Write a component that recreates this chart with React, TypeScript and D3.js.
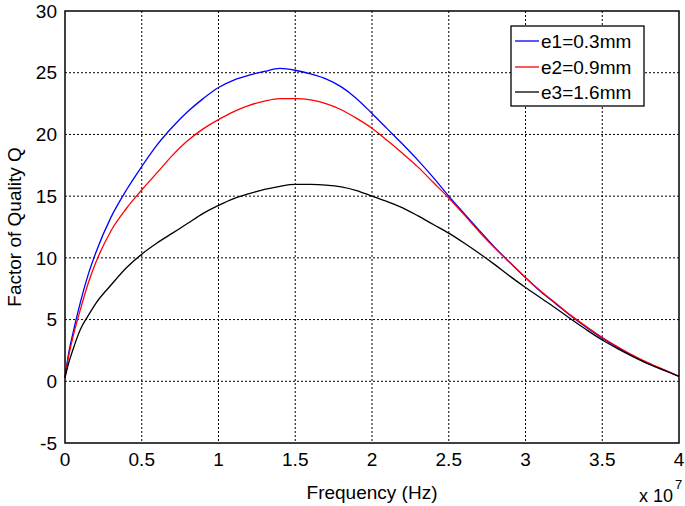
import React from "react";
import * as d3 from "d3";

const freq = [0, 0.02, 0.05, 0.1, 0.15, 0.2, 0.3, 0.4, 0.5, 0.6, 0.7, 0.8, 0.9, 1.0, 1.1, 1.2, 1.3, 1.4, 1.5, 1.6, 1.7, 1.8, 1.9, 2.0, 2.1, 2.2, 2.3, 2.4, 2.5, 2.6, 2.7, 2.8, 2.9, 3.0, 3.1, 3.2, 3.3, 3.4, 3.5, 3.6, 3.7, 3.8, 3.9, 4.0];
const e1 = [0.3, 2.0, 3.8, 6.4, 8.6, 10.4, 13.3, 15.5, 17.4, 19.15, 20.6, 21.85, 22.9, 23.8, 24.4, 24.8, 25.1, 25.35, 25.2, 24.9, 24.5, 23.85, 22.9, 21.7, 20.45, 19.2, 17.9, 16.5, 15.0, 13.6, 12.2, 10.85, 9.6, 8.4, 7.25, 6.25, 5.25, 4.35, 3.5, 2.75, 2.05, 1.45, 0.92, 0.4];
const e2 = [0.3, 1.8, 3.5, 5.8, 7.9, 9.6, 12.2, 14.0, 15.5, 16.9, 18.3, 19.5, 20.45, 21.2, 21.85, 22.35, 22.7, 22.9, 22.9, 22.8, 22.5, 22.0, 21.3, 20.5, 19.5, 18.45, 17.35, 16.1, 14.85, 13.5, 12.1, 10.8, 9.6, 8.4, 7.3, 6.3, 5.3, 4.4, 3.55, 2.8, 2.1, 1.5, 0.95, 0.4];
const e3 = [0.3, 1.3, 2.5, 4.2, 5.3, 6.3, 7.8, 9.2, 10.3, 11.2, 12.0, 12.8, 13.6, 14.25, 14.8, 15.2, 15.55, 15.8, 15.95, 15.95, 15.9, 15.75, 15.45, 15.0, 14.55, 14.05, 13.4, 12.7, 12.0, 11.2, 10.35, 9.45, 8.5, 7.6, 6.75, 5.9, 5.0, 4.15, 3.35, 2.65, 2.0, 1.4, 0.9, 0.4];

const seriesNames = ["e1=0.3mm", "e2=0.9mm", "e3=1.6mm"];
const seriesColors = ["#0000ff", "#ff0000", "#000000"];
const seriesValues = [e1, e2, e3];

const xTicks = [0, 0.5, 1, 1.5, 2, 2.5, 3, 3.5, 4];
const yTicks = [-5, 0, 5, 10, 15, 20, 25, 30];

const FONT = "'Liberation Sans', Arial, Helvetica, sans-serif";

export default function App() {
  const W = 685, H = 506;
  const left = 65, right = 679, top = 11, bottom = 443;
  const x = d3.scaleLinear().domain([0, 4]).range([left, right]);
  const y = d3.scaleLinear().domain([-5, 30]).range([bottom, top]);
  const line = d3.line<number>()
    .x((_, i) => x(freq[i]))
    .y((d) => y(d))
    .curve(d3.curveMonotoneX);

  const lx = 511, ly = 26, lw = 133, lh = 80;
  const rowY = [41, 67, 92];

  return (
    <svg width={W} height={H} style={{ position: "absolute", left: 0, top: 0, background: "#fff" }} fontFamily={FONT}>
      <rect x={0} y={0} width={W} height={H} fill="#fff" />
      {/* grid */}
      {xTicks.slice(1, -1).map((t) => (
        <line key={"gx" + t} x1={x(t)} x2={x(t)} y1={top} y2={bottom} stroke="#000" strokeWidth={1} strokeDasharray="2,2" />
      ))}
      {yTicks.slice(1, -1).map((t) => (
        <line key={"gy" + t} x1={left} x2={right} y1={y(t)} y2={y(t)} stroke="#000" strokeWidth={1} strokeDasharray="2,2" />
      ))}
      {/* series */}
      {seriesValues.map((vals, i) => (
        <path key={"s" + i} d={line(vals) || ""} fill="none" stroke={seriesColors[i]} strokeWidth={1.3} />
      ))}
      {/* axes box */}
      <rect x={left} y={top} width={right - left} height={bottom - top} fill="none" stroke="#000" strokeWidth={1.5} />
      {/* tick labels */}
      {yTicks.map((t) => (
        <text key={"ty" + t} x={57} y={y(t)} dy="0.35em" textAnchor="end" fontSize={19}>{t}</text>
      ))}
      {xTicks.map((t) => (
        <text key={"tx" + t} x={x(t)} y={466} textAnchor="middle" fontSize={19}>{t}</text>
      ))}
      {/* axis labels */}
      <text x={(left + right) / 2} y={499} textAnchor="middle" fontSize={19}>Frequency (Hz)</text>
      <text transform={`translate(21,${(top + bottom) / 2}) rotate(-90)`} textAnchor="middle" fontSize={19}>Factor of Quality Q</text>
      <text x={639} y={502} fontSize={18}>x 10</text>
      <text x={675} y={489} fontSize={13}>7</text>
      {/* legend */}
      <rect x={lx} y={ly} width={lw} height={lh} fill="#fff" stroke="#000" strokeWidth={1.3} />
      {seriesNames.map((n, i) => (
        <g key={"l" + i}>
          <line x1={515} x2={539} y1={rowY[i]} y2={rowY[i]} stroke={seriesColors[i]} strokeWidth={1.3} />
          <text x={541} y={rowY[i]} dy="0.35em" fontSize={19}>{n}</text>
        </g>
      ))}
    </svg>
  );
}
